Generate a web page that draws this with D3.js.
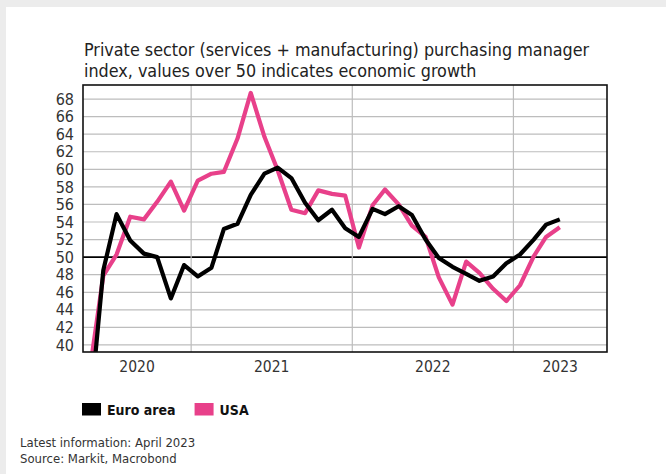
<!DOCTYPE html>
<html>
<head>
<meta charset="utf-8">
<script src="https://cdn.jsdelivr.net/npm/d3@7"></script>
<style>
  html, body { margin: 0; padding: 0; background: #ececec; }
  svg { display: block; }
</style>
</head>
<body>
<div id="chart"></div>
<script>
// monthly composite PMI, May 2020 .. April 2023
var startMonth = [2020, 4];
var euroArea = [31.9, 48.5, 54.9, 51.9, 50.4, 50.0, 45.3, 49.1,
                47.8, 48.8, 53.2, 53.8, 57.1, 59.5, 60.2, 59.0, 56.2, 54.2, 55.4, 53.3,
                52.3, 55.5, 54.9, 55.8, 54.8, 52.0, 49.9, 48.9, 48.1, 47.3, 47.8, 49.3,
                50.3, 52.0, 53.7, 54.3];
var usa = [37.0, 47.9, 50.3, 54.6, 54.3, 56.3, 58.6, 55.3,
           58.7, 59.5, 59.7, 63.5, 68.7, 63.7, 59.9, 55.4, 55.0, 57.6, 57.2, 57.0,
           51.1, 55.9, 57.7, 56.0, 53.6, 52.3, 47.7, 44.6, 49.5, 48.2, 46.4, 45.0,
           46.8, 50.1, 52.3, 53.4];
var yTicks = [40, 42, 44, 46, 48, 50, 52, 54, 56, 58, 60, 62, 64, 66, 68];
var years = [2020, 2021, 2022, 2023];
var seriesNames = ["Euro area", "USA"];
var seriesColors = ["#000000", "#e8408a"];

var W = 666, H = 474;
var font = "'DejaVu Sans Condensed', 'DejaVu Sans', sans-serif";
var margin = {top: 85, right: 59, bottom: 122, left: 83};
var width = W - margin.left - margin.right;
var height = H - margin.top - margin.bottom;

var svg = d3.select("#chart").append("svg")
    .attr("width", W)
    .attr("height", H)
    .style("font-family", font);

svg.append("rect").attr("width", W).attr("height", H).attr("fill", "#ececec");
svg.append("rect").attr("x", 6).attr("y", 7).attr("width", W - 6).attr("height", H - 7).attr("fill", "#fff");

// title
var title = svg.append("text")
    .attr("x", 84)
    .attr("y", 56)
    .attr("fill", "#222")
    .style("font-size", "17.8px");
title.append("tspan").attr("x", 84).attr("dy", 0).text("Private sector (services + manufacturing) purchasing manager");
title.append("tspan").attr("x", 84).attr("dy", 21).text("index, values over 50 indicates economic growth");

function monthDate(i, day) {
    return new Date(startMonth[0], startMonth[1] + i, day);
}

var x = d3.scaleTime()
    .domain([new Date(2020, 4, 1), new Date(2023, 7, 1)])
    .range([0, width]);
var y = d3.scaleLinear()
    .domain([39.2, 69.6])
    .range([height, 0]);

var g = svg.append("g")
    .attr("transform", "translate(" + margin.left + "," + margin.top + ")");

g.append("clipPath").attr("id", "plotclip")
  .append("rect").attr("width", width).attr("height", height);

// horizontal grid
g.append("g")
    .selectAll("line")
    .data(yTicks)
    .enter().append("line")
      .attr("x1", 0).attr("x2", width)
      .attr("y1", function(d){ return y(d); })
      .attr("y2", function(d){ return y(d); })
      .attr("stroke", function(d){ return d === 50 ? "#000" : "#bdbdbd"; })
      .attr("stroke-width", function(d){ return d === 50 ? 1.6 : 1.2; });

// year boundaries
var yearStarts = years.slice(1).map(function(yr){ return new Date(yr, 0, 1); });
g.append("g")
    .selectAll("line")
    .data(yearStarts)
    .enter().append("line")
      .attr("x1", function(d){ return x(d); })
      .attr("x2", function(d){ return x(d); })
      .attr("y1", 0).attr("y2", height)
      .attr("stroke", "#bdbdbd")
      .attr("stroke-width", 1.2);

// y axis labels
var yAxis = d3.axisLeft(y).tickValues(yTicks).tickSize(0).tickPadding(9);
g.append("g")
    .attr("class", "y axis")
    .call(yAxis)
    .call(function(a){ a.select(".domain").remove(); })
    .selectAll("text")
      .attr("fill", "#333")
      .style("font-family", font)
      .style("font-size", "16px");

// year labels centred in visible part of each year
var x0 = x.domain()[0], x1 = x.domain()[1];
g.append("g")
    .selectAll("text")
    .data(years)
    .enter().append("text")
      .attr("x", function(yr){
          var a = Math.max(x(new Date(yr, 0, 1)), x(x0));
          var b = Math.min(x(new Date(yr + 1, 0, 1)), x(x1));
          return (a + b) / 2;
      })
      .attr("y", height + 20)
      .attr("text-anchor", "middle")
      .attr("fill", "#333")
      .style("font-size", "15.5px")
      .text(function(yr){ return yr; });

// lines
var line = d3.line()
    .x(function(d, i){ return x(monthDate(i, 16)); })
    .y(function(d){ return y(d); });

var lines = g.append("g").attr("clip-path", "url(#plotclip)");
[usa, euroArea].forEach(function(s, k){
    lines.append("path")
        .datum(s)
        .attr("d", line)
        .attr("fill", "none")
        .attr("stroke", k === 0 ? seriesColors[1] : seriesColors[0])
        .attr("stroke-width", 4.2)
        .attr("stroke-linejoin", "round");
});

// frame
g.append("rect")
    .attr("width", width).attr("height", height)
    .attr("fill", "none")
    .attr("stroke", "#111")
    .attr("stroke-width", 1.6);

// legend
var legend = svg.append("g").attr("transform", "translate(82,403)");
var lx = 0;
seriesNames.forEach(function(name, i){
    var item = legend.append("g").attr("transform", "translate(" + lx + ",0)");
    item.append("rect").attr("width", 19).attr("height", 12.5).attr("fill", seriesColors[i]);
    var t = item.append("text")
        .attr("x", 25).attr("y", 11.5)
        .attr("fill", "#111")
        .style("font-size", "14px")
        .style("font-weight", "bold")
        .text(name);
    lx += 25 + t.node().getComputedTextLength() + 19;
});

// footer
var foot = svg.append("text").attr("fill", "#333").style("font-size", "13px");
foot.append("tspan").attr("x", 20).attr("y", 447).text("Latest information: April 2023");
foot.append("tspan").attr("x", 20).attr("y", 463).text("Source: Markit, Macrobond");
</script>
</body>
</html>
